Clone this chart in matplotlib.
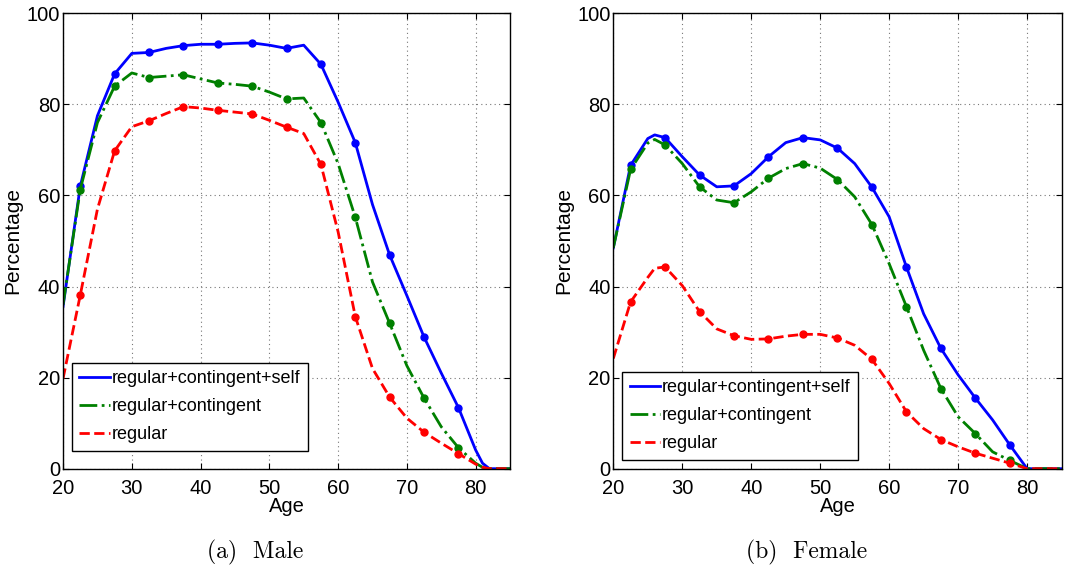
import numpy as np
import matplotlib
matplotlib.use("Agg")
import matplotlib.pyplot as plt

plt.rcParams['font.family'] = ['Liberation Sans', 'DejaVu Sans']

series_names = ["regular+contingent+self", "regular+contingent", "regular"]

# Male panel
male_age = [20, 22.5, 25, 27.5, 30, 32.5, 35, 37.5, 40, 42.5, 45, 47.5, 50, 52.5,
            55, 57.5, 60, 62.5, 65, 67.5, 70, 72.5, 75, 77.5, 80, 81, 82, 85]
male_self = [35.6, 62.0, 77.5, 86.7, 91.2, 91.4, 92.3, 92.9, 93.2, 93.2, 93.4, 93.5, 93.0, 92.3,
             93.0, 88.8, 80.5, 71.6, 58.0, 46.9, 38.0, 28.9, 21.0, 13.4, 4.1, 1.2, 0, 0]
male_cont = [36.0, 61.3, 76.0, 84.0, 86.9, 85.9, 86.2, 86.5, 85.6, 84.7, 84.4, 84.0, 82.7, 81.2,
             81.4, 76.0, 67.0, 55.2, 41.0, 31.9, 22.6, 15.5, 9.2, 4.6, 1.2, 0.3, 0, 0]
male_reg = [19.8, 38.1, 57.0, 69.8, 75.1, 76.4, 78.0, 79.5, 79.2, 78.7, 78.3, 77.9, 76.5, 75.0,
            73.6, 66.8, 52.0, 33.4, 22.0, 15.7, 11.1, 8.0, 5.6, 3.3, 1.0, 0.3, 0, 0]

# Female panel
female_age = [20, 22.5, 25, 26, 27.5, 30, 32.5, 35, 37.5, 40, 42.5, 45, 47.5, 50, 52.5,
              55, 57.5, 60, 62.5, 65, 67.5, 70, 72.5, 75, 77.5, 80, 85]
female_self = [48.5, 66.6, 72.5, 73.3, 72.7, 68.5, 64.5, 61.9, 62.1, 64.8, 68.5, 71.6, 72.7, 72.2, 70.4,
               67.0, 61.8, 55.3, 44.3, 34.0, 26.4, 20.6, 15.5, 10.7, 5.2, 0, 0]
female_cont = [48.5, 65.7, 71.5, 72.3, 71.1, 67.0, 61.9, 59.0, 58.4, 60.8, 63.8, 65.9, 67.0, 66.0, 63.5,
               59.7, 53.6, 45.0, 35.6, 26.0, 17.6, 11.4, 7.7, 3.7, 1.8, 0, 0]
female_reg = [24.2, 36.6, 42.0, 44.0, 44.3, 40.2, 34.5, 30.7, 29.2, 28.4, 28.5, 29.1, 29.5, 29.5, 28.7,
              27.1, 24.0, 18.7, 12.5, 8.8, 6.4, 4.8, 3.4, 2.3, 1.2, 0, 0]

marker_ages = [22.5, 27.5, 32.5, 37.5, 42.5, 47.5, 52.5, 57.5, 62.5, 67.5, 72.5, 77.5]

styles = [("#0000ff", "-"), ("#008000", "-."), ("#ff0000", "--")]

fig = plt.figure(figsize=(10.76, 5.71), dpi=100)
ax1 = fig.add_axes([0.0586, 0.1792, 0.4154, 0.7975])
ax2 = fig.add_axes([0.570, 0.1792, 0.4166, 0.7975])


def panel(ax, age, data, caption, legend_anchor):
    age = np.array(age)
    mask = np.isin(age, marker_ages)
    for vals, name, (c, ls) in zip(data, series_names, styles):
        vals = np.array(vals)
        ax.plot(age, vals, color=c, linestyle=ls, linewidth=2, label=name)
        ax.plot(age[mask], vals[mask], "o", color=c, markersize=5)
    ax.set_xlim(20, 85)
    ax.set_ylim(0, 100)
    ax.set_xticks([20, 30, 40, 50, 60, 70, 80])
    ax.set_yticks([0, 20, 40, 60, 80, 100])
    ax.tick_params(direction="in", top=True, right=True, labelsize=14.5, length=4)
    ax.tick_params(axis="x", pad=7.5)
    ax.tick_params(axis="y", pad=2)
    ax.grid(True, linestyle=(0, (1, 3)), color="#777777", linewidth=0.8)
    for s in ax.spines.values():
        s.set_linewidth(1.0)
    ax.set_xlabel("Age", fontsize=14.5, labelpad=-1)
    ax.set_ylabel("Percentage", fontsize=15, labelpad=3)
    leg = ax.legend(loc="lower left", bbox_to_anchor=legend_anchor, fontsize=13,
                    handlelength=1.7, handletextpad=0.1, borderpad=0.4,
                    labelspacing=0.62, fancybox=False, framealpha=1, edgecolor="black")
    leg.get_frame().set_linewidth(1.0)
    ax.text(0.43, -0.185, caption, transform=ax.transAxes, ha="center", va="center",
            fontsize=17, family=["cmr10"])


panel(ax1, male_age, [male_self, male_cont, male_reg], "(a)  Male", (0.0, 0.02))
panel(ax2, female_age, [female_self, female_cont, female_reg], "(b)  Female", (0.0, 0.0))

fig.savefig("out.png", dpi=100)
